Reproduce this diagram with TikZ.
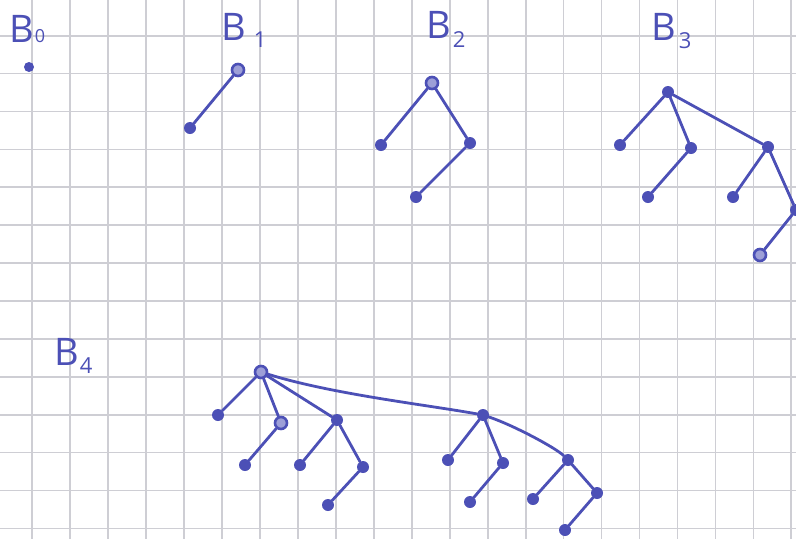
\documentclass[tikz,border=0pt]{standalone}
\usepackage{fontspec}
\setmainfont{Open Sans}
\definecolor{pen}{RGB}{76,80,182}
\definecolor{gridc}{RGB}{206,206,212}
\begin{document}
\begin{tikzpicture}[x=1pt,y=-1pt,
  dot/.style={circle,fill=pen,inner sep=0pt,minimum size=12pt},
  ring/.style={circle,draw=pen,fill=pen!55,line width=2.6pt,inner sep=0pt,minimum size=12pt},
  edge/.style={draw=pen,line width=2.8pt,line cap=round},
  lab/.style={text=pen,anchor=base west,inner sep=0pt,font=\fontsize{38}{38}\selectfont},
  gridline/.style={draw=gridc,line width=1.7pt}]
\newcommand\subf{\fontsize{22}{22}\selectfont}
\useasboundingbox (0,0) rectangle (796,539);
\fill[white] (0,0) rectangle (796,539);
% grid
\foreach \k in {0,...,20} {\draw[gridline] ({32.3+37.95*\k},0) -- ({32.3+37.95*\k},539);}
\foreach \k in {0,...,13} {\draw[gridline] (0,{35.7+37.9*\k}) -- (796,{35.7+37.9*\k});}
% labels
\node[lab] (L0) at (9,42) {B\kern1pt\raisebox{0pt}{\fontsize{18}{18}\selectfont 0}};
\node[lab] (L1) at (221,40) {B\kern8pt\raisebox{-7pt}{\subf 1}};
\node[lab] (L2) at (426,38) {B\kern2pt\raisebox{-9pt}{\subf 2}};
\node[lab] (L3) at (651,40) {B\kern3pt\raisebox{-8pt}{\subf 3}};
\node[lab] (L4) at (54,365) {B\kern1pt\raisebox{-8pt}{\subf 4}};
% B0
\node[dot,minimum size=10pt] (a0) at (29,67) {};
% B1
\node[ring] (b1r) at (238,70) {};
\node[dot] (b1c) at (190,128) {};
\draw[edge] (b1r) -- (b1c);
% B2
\node[ring] (c2r) at (432,83) {};
\node[dot] (c2a) at (381,145) {};
\node[dot] (c2b) at (470,143) {};
\node[dot] (c2c) at (416,197) {};
\draw[edge] (c2r) -- (c2a);
\draw[edge] (c2r) -- (c2b);
\draw[edge] (c2b) -- (c2c);
% B3
\node[dot] (d3r) at (668,92) {};
\node[dot] (d3a) at (620,145) {};
\node[dot] (d3b) at (691,148) {};
\node[dot] (d3c) at (768,147) {};
\node[dot] (d3d) at (648,197) {};
\node[dot] (d3e) at (733,197) {};
\node[dot] (d3f) at (796,210) {};
\node[ring] (d3g) at (760,255) {};
\draw[edge] (d3r) -- (d3a);
\draw[edge] (d3r) -- (d3b);
\draw[edge] (d3r) -- (d3c);
\draw[edge] (d3b) -- (d3d);
\draw[edge] (d3c) -- (d3e);
\draw[edge] (d3c) -- (d3f);
\draw[edge] (d3f) -- (d3g);
% B4
\node[ring] (e4r) at (261,372) {};
\node[dot] (e4a) at (218,415) {};
\node[ring] (e4b) at (281,423) {};
\node[dot] (e4c) at (337,420) {};
\node[dot] (e4d) at (483,415) {};
\node[dot] (e4e) at (245,465) {};
\node[dot] (e4f) at (300,465) {};
\node[dot] (e4g) at (363,467) {};
\node[dot] (e4h) at (328,505) {};
\node[dot] (e4i) at (448,460) {};
\node[dot] (e4j) at (503,463) {};
\node[dot] (e4k) at (568,460) {};
\node[dot] (e4l) at (470,502) {};
\node[dot] (e4m) at (533,499) {};
\node[dot] (e4n) at (597,493) {};
\node[dot] (e4o) at (565,530) {};
\draw[edge] (e4r) -- (e4a);
\draw[edge] (e4r) -- (e4b);
\draw[edge] (e4r) -- (e4c);
\draw[edge] (e4r) .. controls +(70,22) and +(-55,-10) .. (e4d);
\draw[edge] (e4b) -- (e4e);
\draw[edge] (e4c) -- (e4f);
\draw[edge] (e4c) -- (e4g);
\draw[edge] (e4g) -- (e4h);
\draw[edge] (e4d) -- (e4i);
\draw[edge] (e4d) -- (e4j);
\draw[edge] (e4d) .. controls +(30,10) and +(-12,-12) .. (e4k);
\draw[edge] (e4j) -- (e4l);
\draw[edge] (e4k) -- (e4m);
\draw[edge] (e4k) -- (e4n);
\draw[edge] (e4n) -- (e4o);
\end{tikzpicture}
\end{document}
